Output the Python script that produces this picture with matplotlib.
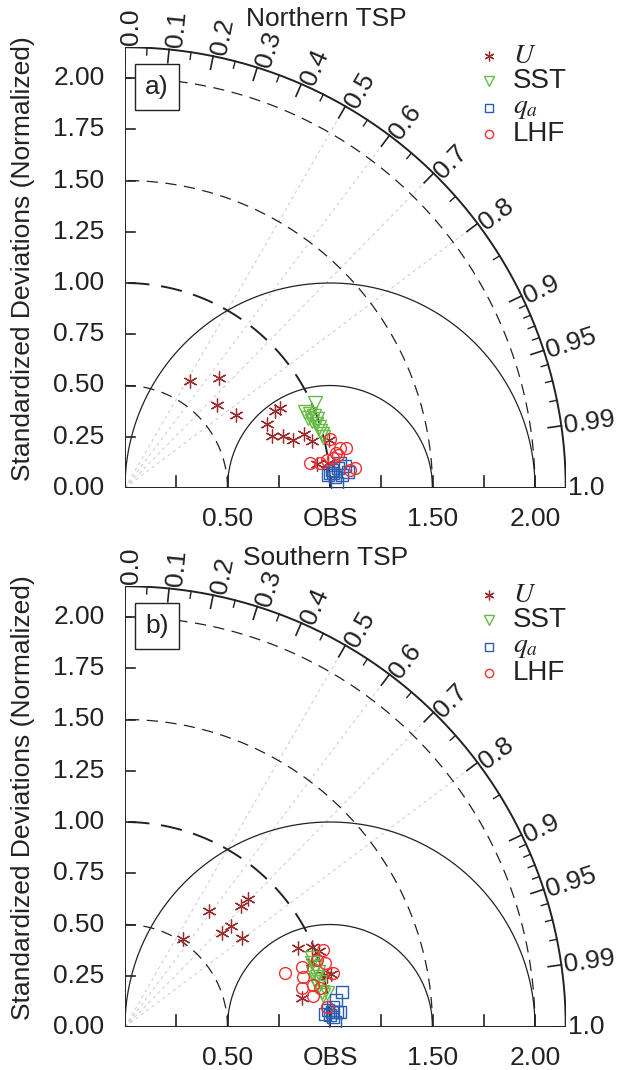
import numpy as np
import matplotlib.pyplot as plt

plt.rcParams['font.family'] = ['Liberation Sans', 'DejaVu Sans']
plt.rcParams['mathtext.fontset'] = 'stix'

RMAX = 2.15

titles = ['Northern TSP', 'Southern TSP']
tags = ['a)', 'b)']
var_names = ['$U$', 'SST', '$q_a$', 'LHF']

# normalized standard deviation / correlation, Northern TSP
n_u_std = [0.611, 0.706, 0.605, 0.648, 0.823, 0.851, 0.760, 0.761, 0.812, 0.853, 0.912, 0.940, 1.022, 0.944, 0.997]
n_u_cor = [0.519, 0.650, 0.742, 0.835, 0.889, 0.889, 0.912, 0.943, 0.950, 0.962, 0.957, 0.970, 0.973, 0.9923, 0.9925]
n_sst_std = [1.016, 0.953, 0.972, 0.987, 0.956, 0.996, 0.969, 0.983, 0.992, 0.991, 0.996, 0.998]
n_sst_cor = [0.912, 0.921, 0.928, 0.934, 0.934, 0.941, 0.941, 0.948, 0.954, 0.960, 0.965, 0.968]
n_qa_std = [1.003, 1.056, 1.025, 1.091, 1.034, 0.992, 1.061, 1.044, 1.018, 1.014, 1.078]
n_qa_cor = [0.9973, 0.9933, 0.9986, 0.9974, 0.9997, 0.9980, 0.9982, 0.9956, 0.9974, 0.9962, 0.9951]
n_lhf_std = [0.910, 1.028, 1.067, 1.095, 1.043, 1.025, 0.994, 1.126, 1.101, 0.959, 1.051]
n_lhf_cor = [0.9910, 0.9726, 0.9832, 0.9840, 0.9865, 0.9898, 0.9905, 0.9962, 0.9968, 0.9919, 0.9882]

# Southern TSP
s_u_std = [0.514, 0.699, 0.659, 0.714, 0.818, 0.866, 0.717, 0.928, 0.992, 1.016, 0.966, 1.004, 1.037, 1.015, 0.874]
s_u_cor = [0.551, 0.587, 0.718, 0.724, 0.692, 0.693, 0.796, 0.910, 0.919, 0.931, 0.944, 0.967, 0.969, 0.970, 0.987]
s_sst_std = [0.972, 0.972, 0.954, 0.968, 0.976, 0.961, 0.976, 0.979, 0.999, 0.964, 0.978, 0.955]
s_sst_cor = [0.938, 0.954, 0.961, 0.968, 0.974, 0.979, 0.9845, 0.9872, 0.9861, 0.946, 0.962, 0.971]
s_qa_std = [1.073, 1.037, 1.020, 0.993, 1.037, 1.052, 0.978, 1.016, 1.024, 1.002, 1.013]
s_qa_cor = [0.9872, 0.9919, 0.9954, 0.9965, 0.9975, 0.9976, 0.9979, 0.9988, 0.9997, 0.9983, 0.9974]
s_lhf_std = [0.823, 0.911, 0.902, 0.884, 0.929, 1.025, 1.049, 1.037, 0.940, 0.970, 0.990, 0.992]
s_lhf_cor = [0.948, 0.947, 0.962, 0.976, 0.987, 0.952, 0.968, 0.932, 0.976, 0.981, 0.995, 0.944]

major_cor = [0.0, 0.1, 0.2, 0.3, 0.4, 0.5, 0.6, 0.7, 0.8, 0.9, 0.95, 0.99, 1.0]
minor_cor = [0.05, 0.15, 0.25, 0.35, 0.45, 0.55, 0.65, 0.75, 0.85,
             0.91, 0.92, 0.93, 0.94, 0.96, 0.97, 0.98]
ray_cor = [0.5, 0.6, 0.7, 0.8]
ytick_vals = [0.0, 0.25, 0.5, 0.75, 1.0, 1.25, 1.5, 1.75, 2.0]
xtick_vals = [0.25, 0.5, 0.75, 1.0, 1.25, 1.5, 1.75, 2.0]
xlabel_vals = [0.5, 1.0, 1.5, 2.0]
xlabel_txt = ['0.50', 'OBS', '1.50', '2.00']

styles = [
    dict(marker=(6, 2, 0), color='#9a2b2b', mfc='none', ms=10, mew=0.9),
    dict(marker='v', color='#66bb44', mfc='none', ms=9.5, mew=1.0),
    dict(marker='s', color='#2a5cb0', mfc='none', ms=8, mew=1.0),
    dict(marker='o', color='#f03030', mfc='none', ms=8.5, mew=1.0),
]

INK = '#222222'
FS = 19


def draw_panel(ax, title, tag, series):
    ax.set_xlim(0, RMAX)
    ax.set_ylim(0, RMAX)
    ax.set_aspect('equal')
    ax.axis('off')
    th = np.linspace(0, np.pi / 2, 400)

    # correlation rays
    for c in ray_cor:
        a = np.arccos(c)
        ax.plot([0, RMAX * np.cos(a)], [0, RMAX * np.sin(a)], color='#d2d2d2',
                lw=0.8, ls=(0, (3, 3)), zorder=1)

    # std dev arcs around origin
    for r in [0.5, 1.5, 2.0]:
        ax.plot(r * np.cos(th), r * np.sin(th), color=INK, lw=0.9, ls=(0, (9, 6)), zorder=2)
    ax.plot(np.cos(th), np.sin(th), color=INK, lw=1.4, ls=(0, (11, 6)), zorder=2)

    # RMS arcs around OBS
    phi = np.linspace(0, np.pi, 400)
    for r in [0.5, 1.0]:
        ax.plot(1 + r * np.cos(phi), r * np.sin(phi), color=INK, lw=0.9, zorder=2)

    # frame
    ax.plot(RMAX * np.cos(th), RMAX * np.sin(th), color=INK, lw=1.4, zorder=3)
    ax.plot([0, 0], [0, RMAX], color=INK, lw=1.4, zorder=3)
    ax.plot([0, RMAX], [0, 0], color=INK, lw=1.4, zorder=3)

    for v in ytick_vals:
        ax.plot([0, 0.05], [v, v], color=INK, lw=1.2, zorder=3)
        ax.text(-0.1, v, f'{v:.2f}', ha='right', va='center', fontsize=FS, color=INK)
    for v in xtick_vals:
        ax.plot([v, v], [0, 0.06], color=INK, lw=1.2, zorder=3)
    for v, t in zip(xlabel_vals, xlabel_txt):
        ax.text(v, -0.15, t, ha='center', va='center', fontsize=FS, color=INK)

    # correlation ticks and labels on the outer arc
    for c in major_cor:
        a = np.arccos(c)
        ax.plot([(RMAX - 0.065) * np.cos(a), RMAX * np.cos(a)],
                [(RMAX - 0.065) * np.sin(a), RMAX * np.sin(a)], color=INK, lw=1.2, zorder=3)
        al = a - 0.014 * np.sin(a)
        lab = f'{c:.1f}' if c in (0.0, 1.0) else f'{c:g}'
        ax.text((RMAX + 0.012) * np.cos(al), (RMAX + 0.012) * np.sin(al), lab,
                rotation=np.degrees(a), rotation_mode='anchor', ha='left', va='center',
                fontsize=FS, color=INK)
    for c in minor_cor:
        a = np.arccos(c)
        ax.plot([(RMAX - 0.035) * np.cos(a), RMAX * np.cos(a)],
                [(RMAX - 0.035) * np.sin(a), RMAX * np.sin(a)], color=INK, lw=1.0, zorder=3)

    # data
    for (std, cor), st in zip(series, styles):
        a = np.arccos(np.array(cor))
        s = np.array(std)
        ax.plot(s * np.cos(a), s * np.sin(a), ls='none', zorder=5, **st)

    # legend
    leg_y = [2.107, 1.985, 1.854, 1.727]
    for name, st, y in zip(var_names, styles, leg_y):
        small = dict(st)
        small['ms'] = st['ms'] * 0.7
        ax.plot([1.776], [y], ls='none', clip_on=False, **small)
        ax.text(1.893, y, name, ha='left', va='center', fontsize=20, color=INK)

    ax.text(0.98, 2.29, title, ha='center', va='center', fontsize=FS, color=INK)
    ax.text(-0.5, 1.12, 'Standardized Deviations (Normalized)', rotation=90,
            ha='center', va='center', fontsize=FS, color=INK)
    ax.text(0.156, 1.956, tag, ha='center', va='center', fontsize=19, color=INK, zorder=6,
            bbox=dict(boxstyle='square,pad=0.4', fc='white', ec=INK, lw=1.0))


fig = plt.figure(figsize=(6.19, 10.70), dpi=100)
w = RMAX * 205 / 619
h = RMAX * 205 / 1070
ax1 = fig.add_axes([125 / 619, (1070 - 488) / 1070, w, h])
ax2 = fig.add_axes([125 / 619, (1070 - 1027) / 1070, w, h])

draw_panel(ax1, titles[0], tags[0],
           [(n_u_std, n_u_cor), (n_sst_std, n_sst_cor), (n_qa_std, n_qa_cor), (n_lhf_std, n_lhf_cor)])
draw_panel(ax2, titles[1], tags[1],
           [(s_u_std, s_u_cor), (s_sst_std, s_sst_cor), (s_qa_std, s_qa_cor), (s_lhf_std, s_lhf_cor)])

fig.savefig('out.png', dpi=100)
